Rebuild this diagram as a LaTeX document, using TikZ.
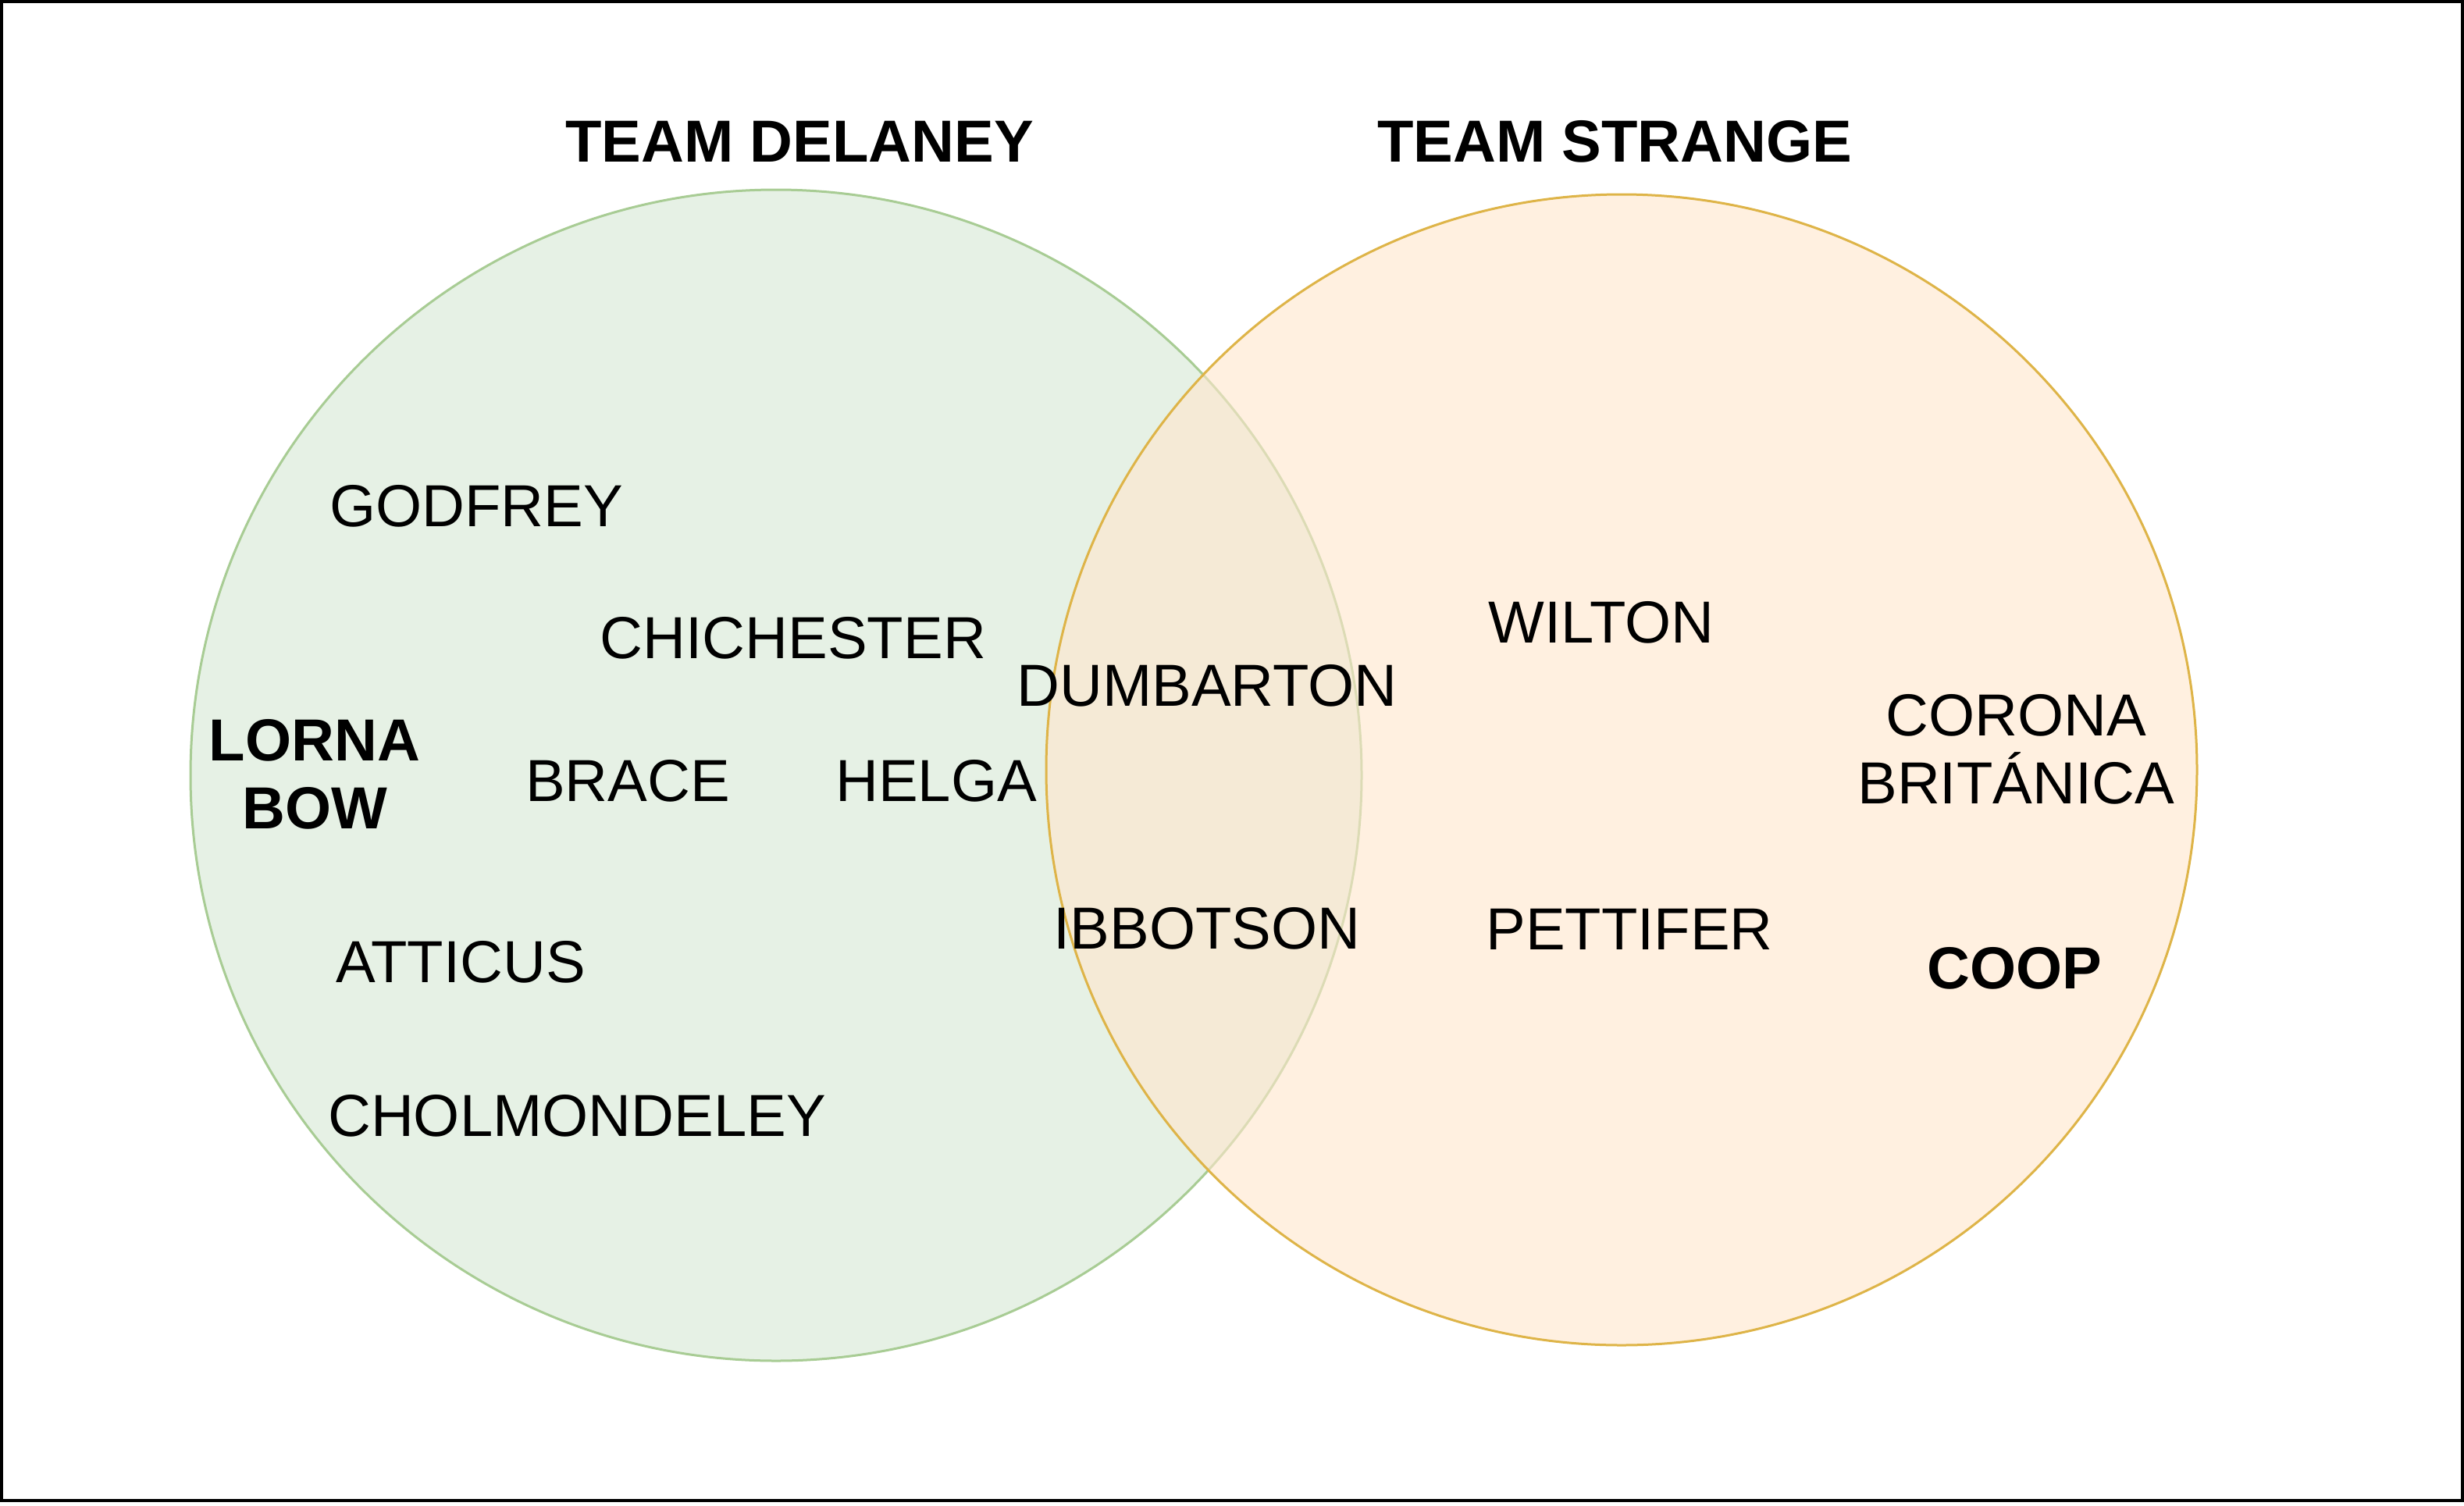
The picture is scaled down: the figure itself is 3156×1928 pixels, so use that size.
\documentclass[tikz,border=0pt]{standalone}
\usepackage{fontspec}
\setmainfont{Liberation Sans}
\definecolor{gfill}{HTML}{D5E8D4}
\definecolor{gline}{RGB}{168,204,148}
\definecolor{ofill}{HTML}{FFE6CC}
\definecolor{oline}{RGB}{222,180,72}
\begin{document}
\begin{tikzpicture}[x=1pt,y=-1pt,
  lbl/.style={inner sep=0pt,outer sep=0pt,align=center,font=\fontsize{76}{87}\selectfont},
  blbl/.style={lbl,font=\fontsize{76}{87}\selectfont\bfseries},
  setg/.style={fill=gfill,fill opacity=0.6,draw=gline,line width=3pt},
  seto/.style={fill=ofill,fill opacity=0.6,draw=oline,line width=3pt}]
\useasboundingbox (0,0) rectangle (3156,1928);
\draw[line width=4pt] (2,2) rectangle (3154,1922);
\path[setg] (994,993) circle[radius=750];
\path[seto] (2077,986) circle[radius=737];
\node[blbl] (td) at (1024,181) {TEAM DELANEY};
\node[blbl] (ts) at (2068,181) {TEAM STRANGE};
\node[lbl] (godfrey) at (610,648) {GODFREY};
\node[lbl] (chichester) at (1016,817) {CHICHESTER};
\node[blbl] (lorna) at (403,991.5) {LORNA\\BOW};
\node[lbl] (brace) at (804,1000) {BRACE};
\node[lbl] (helga) at (1199,1000) {HELGA};
\node[lbl] (dumbarton) at (1546,878) {DUMBARTON};
\node[lbl] (ibbotson) at (1546,1189) {IBBOTSON};
\node[lbl] (wilton) at (2051,797) {WILTON};
\node[lbl] (pettifer) at (2087,1190) {PETTIFER};
\node[lbl] (corona) at (2582,960) {CORONA\\BRITÁNICA};
\node[blbl] (coop) at (2580,1240) {COOP};
\node[lbl] (atticus) at (590,1232) {ATTICUS};
\node[lbl] (cholmondeley) at (739,1429) {CHOLMONDELEY};
\end{tikzpicture}
\end{document}
